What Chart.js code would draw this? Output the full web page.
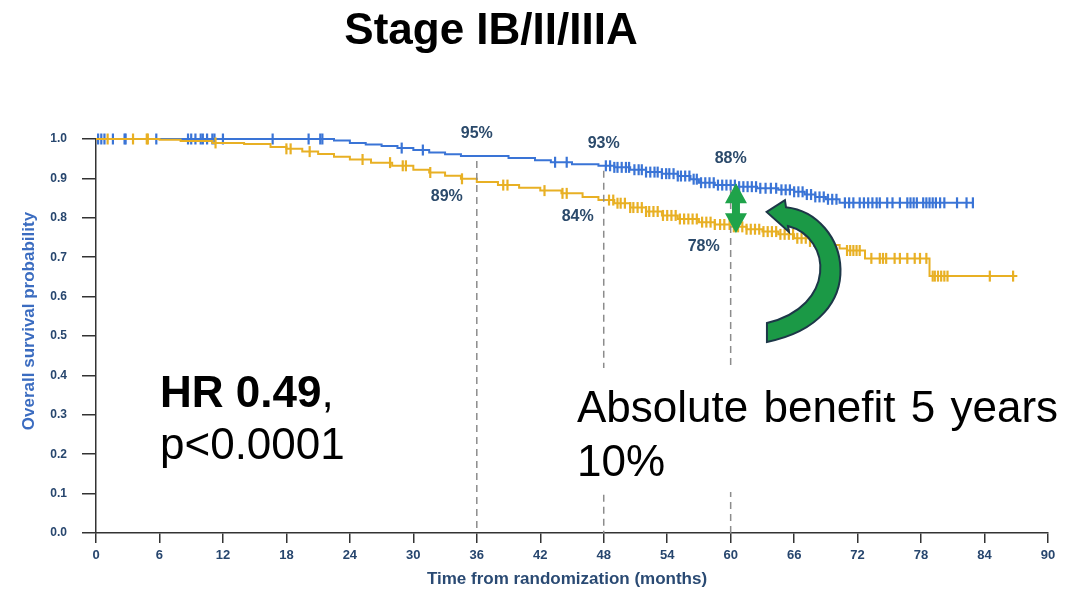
<!DOCTYPE html>
<html>
<head>
<meta charset="utf-8">
<script src="https://cdn.jsdelivr.net/npm/chart.js@4.4.0/dist/chart.umd.min.js"></script>
<style>
html,body{margin:0;padding:0;background:#fff;}
#wrap{width:1081px;height:589px;position:relative;}
</style>
</head>
<body>
<div id="wrap"><canvas id="myChart"></canvas></div>
<script>
// KM curves (months, survival)
var blueTimes = [0,22.5,24,25.5,27,28.5,30,31.5,33,34.5,39,41.5,43,45,47.5,49,50.5,52,53.5,55,56.2,57,58.5,60.5,62.5,64.5,66,67,68,69,70.3,82.9];
var blueSurv  = [1,0.996,0.99,0.986,0.982,0.977,0.972,0.966,0.961,0.957,0.952,0.946,0.941,0.936,0.932,0.928,0.922,0.916,0.912,0.906,0.898,0.889,0.883,0.879,0.875,0.871,0.866,0.859,0.853,0.847,0.838,0.838];

var goldTimes = [0,6,8,11,14,16.5,18,19.5,21,22.5,24,26,28,30,31.5,33,34.5,36,38,40,42,44,46,47.5,49,50.5,52,53.5,55,57,58.5,60,61.5,63,64.5,66,67.5,69,70.3,71,72.7,78.8,87.1];
var goldSurv  = [1,0.998,0.995,0.99,0.987,0.98,0.975,0.968,0.962,0.955,0.948,0.94,0.932,0.922,0.915,0.907,0.899,0.891,0.883,0.876,0.869,0.862,0.853,0.845,0.837,0.826,0.816,0.806,0.797,0.789,0.783,0.777,0.771,0.765,0.758,0.748,0.74,0.731,0.722,0.717,0.697,0.652,0.652];

// censor marks (months)
var blueCensor = [0.2,0.5,0.8,1.6,2.7,2.8,5.7,8.7,9.0,9.4,9.9,10.1,10.5,11.0,11.2,12.0,16.7,20.1,21.2,21.4,28.9,30.9,43.4,44.5,
  48.2,48.6,49.0,49.3,49.7,50.1,50.4,50.9,51.3,51.6,52.0,52.4,52.8,53.1,53.5,53.9,54.2,54.6,55.0,55.3,55.7,56.1,56.5,56.8,57.2,57.6,
  58.0,58.4,58.8,59.2,59.6,60.0,60.4,60.8,61.2,61.6,62.0,62.4,62.8,63.3,63.8,64.3,64.8,65.2,65.6,66.0,66.4,66.8,67.2,67.6,68.0,68.4,
  68.8,69.2,69.6,70.0,70.8,71.2,71.6,72.2,72.6,73.0,73.4,73.8,74.1,74.8,75.3,76.0,76.7,77.0,77.3,77.6,78.2,78.5,78.8,79.1,79.4,79.8,
  80.2,81.4,82.3,82.9];
var goldCensor = [1.1,3.5,4.8,4.9,11.3,18.0,18.4,20.2,25.2,27.8,29.0,29.3,31.6,34.6,38.5,38.9,42.4,44.1,44.5,
  48.5,48.9,49.3,49.6,50.0,50.5,50.8,51.2,51.6,52.0,52.3,52.7,53.1,53.6,54.0,54.4,54.8,55.2,55.6,56.0,56.4,56.8,57.3,57.7,58.1,58.5,
  59.0,59.4,59.9,60.3,60.7,61.1,61.5,61.9,62.3,62.7,63.1,63.5,63.9,64.3,64.7,65.1,65.5,65.9,66.3,66.7,67.1,67.5,67.9,68.3,68.7,
  71.0,71.3,71.6,71.9,72.2,73.3,74.1,74.4,74.7,75.5,76.0,76.7,77.4,77.9,78.5,79.1,79.3,79.6,79.9,80.2,80.5,84.5,86.7];

var landmarks = [36,48,60];
var blueLabels = ['95%','93%','88%'];
var goldLabels = ['89%','84%','78%'];

var BLUE = '#3a74d6', GOLD = '#e8b024', NAVY = '#27466e';
var FONT = "'Liberation Sans', Arial, sans-serif";

function survAt(times, surv, t) {
  var s = surv[0];
  for (var i = 0; i < times.length; i++) { if (times[i] <= t) s = surv[i]; }
  return s;
}
function pts(times, surv) {
  return times.map(function(t, i) { return {x: t, y: surv[i]}; });
}
function cens(list, times, surv) {
  return list.map(function(t) { return {x: t, y: survAt(times, surv, t)}; });
}

var extras = {
  id: 'extras',
  afterDatasetsDraw: function(chart) {
    var ctx = chart.ctx, xs = chart.scales.x, ys = chart.scales.y;
    function px(m) { return xs.getPixelForValue(m); }
    function py(s) { return ys.getPixelForValue(s); }
    ctx.save();

    // dashed landmark lines
    ctx.strokeStyle = '#8c8c8c'; ctx.lineWidth = 1.5; ctx.setLineDash([7,5]);
    landmarks.forEach(function(m) {
      ctx.beginPath();
      ctx.moveTo(px(m), py(survAt(blueTimes, blueSurv, m)) + 5);
      ctx.lineTo(px(m), py(0));
      ctx.stroke();
    });
    ctx.setLineDash([]);

    // percent labels
    var bOff = [[0,-22],[0,-22],[0,-27]];
    var gOff = [[-30,15],[-26,17],[-27,20]];
    ctx.font = 'bold 16px ' + FONT; ctx.fillStyle = '#2b4a6b';
    ctx.textAlign = 'center'; ctx.textBaseline = 'middle';
    landmarks.forEach(function(m, i) {
      ctx.fillText(blueLabels[i], px(m) + bOff[i][0], py(survAt(blueTimes, blueSurv, m)) + bOff[i][1]);
      ctx.fillText(goldLabels[i], px(m) + gOff[i][0], py(survAt(goldTimes, goldSurv, m)) + gOff[i][1]);
    });

    // green double arrow at 5 years
    var cx = px(60.5), yt = py(0.888), yb = py(0.761);
    ctx.fillStyle = '#1fa34a';
    ctx.beginPath();
    ctx.moveTo(cx, yt); ctx.lineTo(cx+11, yt+20); ctx.lineTo(cx+4, yt+20); ctx.lineTo(cx+4, yb-20);
    ctx.lineTo(cx+11, yb-20); ctx.lineTo(cx, yb); ctx.lineTo(cx-11, yb-20); ctx.lineTo(cx-4, yb-20);
    ctx.lineTo(cx-4, yt+20); ctx.lineTo(cx-11, yt+20); ctx.closePath(); ctx.fill();

    // curved arrow
    function P(m, s) { return [px(m), py(s)]; }
    var a = P(63.43,0.533), c1 = P(70.0,0.575), c2 = P(69.6,0.75), b = P(65.42,0.779);
    var hb = P(65.51,0.764), tip = P(63.40,0.815), ht = P(65.13,0.845), o = P(65.23,0.827);
    var d1 = P(71.2,0.81), d2 = P(73.6,0.54), e = P(63.43,0.485);
    ctx.beginPath();
    ctx.moveTo(a[0], a[1]);
    ctx.bezierCurveTo(c1[0], c1[1], c2[0], c2[1], b[0], b[1]);
    ctx.lineTo(hb[0], hb[1]); ctx.lineTo(tip[0], tip[1]); ctx.lineTo(ht[0], ht[1]); ctx.lineTo(o[0], o[1]);
    ctx.bezierCurveTo(d1[0], d1[1], d2[0], d2[1], e[0], e[1]);
    ctx.closePath();
    ctx.fillStyle = '#1b9946'; ctx.fill();
    ctx.strokeStyle = '#1d3748'; ctx.lineWidth = 2; ctx.stroke();

    // white box behind benefit text
    ctx.fillStyle = '#fff';
    ctx.fillRect(570, 368, 490, 124);

    ctx.fillStyle = '#000'; ctx.textAlign = 'left'; ctx.textBaseline = 'alphabetic';
    ctx.font = '44px ' + FONT;
    ctx.wordSpacing = '3px';
    ctx.fillText('Absolute benefit 5 years', 577, 422);
    ctx.wordSpacing = '0px';
    ctx.fillText('10%', 577, 476);

    ctx.font = 'bold 44px ' + FONT;
    ctx.fillText('HR 0.49', 160, 407);
    var w = ctx.measureText('HR 0.49').width;
    ctx.font = '44px ' + FONT;
    ctx.fillText(',', 160 + w, 407);
    ctx.fillText('p<0.0001', 160, 459);

    // title
    ctx.font = 'bold 44px ' + FONT; ctx.textAlign = 'center';
    ctx.fillText('Stage IB/II/IIIA', 491, 44);

    // axis titles
    ctx.font = 'bold 17px ' + FONT; ctx.fillStyle = '#2a4a73';
    ctx.fillText('Time from randomization (months)', 567, 584);
    ctx.translate(34, 321); ctx.rotate(-Math.PI/2);
    ctx.font = 'bold 17px ' + FONT; ctx.fillStyle = '#3b6cc0';
    ctx.fillText('Overall survival probability', 0, 0);
    ctx.restore();
  }
};

var ctx = document.getElementById('myChart');
var myChart = new Chart(ctx, {
  type: 'scatter',
  data: {
    datasets: [
      {data: pts(goldTimes, goldSurv), showLine: true, stepped: 'before', borderColor: GOLD, borderWidth: 2, pointRadius: 0, clip: false},
      {data: cens(goldCensor, goldTimes, goldSurv), showLine: false, pointStyle: 'line', rotation: 90, pointRadius: 5.5, borderColor: GOLD, borderWidth: 2.2, clip: false},
      {data: pts(blueTimes, blueSurv), showLine: true, stepped: 'before', borderColor: BLUE, borderWidth: 2, pointRadius: 0, clip: false},
      {data: cens(blueCensor, blueTimes, blueSurv), showLine: false, pointStyle: 'line', rotation: 90, pointRadius: 5.5, borderColor: BLUE, borderWidth: 2.2, clip: false}
    ]
  },
  options: {
    responsive: true,
    maintainAspectRatio: false,
    animation: false,
    layout: {padding: {top: 139, right: 33, left: 0, bottom: 0}},
    plugins: {legend: {display: false}, tooltip: {enabled: false}},
    scales: {
      x: {
        type: 'linear', min: 0, max: 90,
        afterFit: function(s) { s.height = 56; },
        grid: {drawOnChartArea: false, tickLength: 10, color: '#333', lineWidth: 1.5},
        border: {color: '#333', width: 1.5},
        ticks: {stepSize: 6, padding: 5, color: NAVY, font: {family: FONT, size: 13, weight: 'bold'}}
      },
      y: {
        min: 0, max: 1,
        afterFit: function(s) { s.width = 96; },
        grid: {drawOnChartArea: false, tickLength: 14, color: '#333', lineWidth: 1.5},
        border: {color: '#333', width: 1.5},
        ticks: {stepSize: 0.1, padding: 15, color: NAVY, font: {family: FONT, size: 12, weight: 'bold'},
          callback: function(v) { return v.toFixed(1); }}
      }
    }
  },
  plugins: [extras]
});
</script>
</body>
</html>
